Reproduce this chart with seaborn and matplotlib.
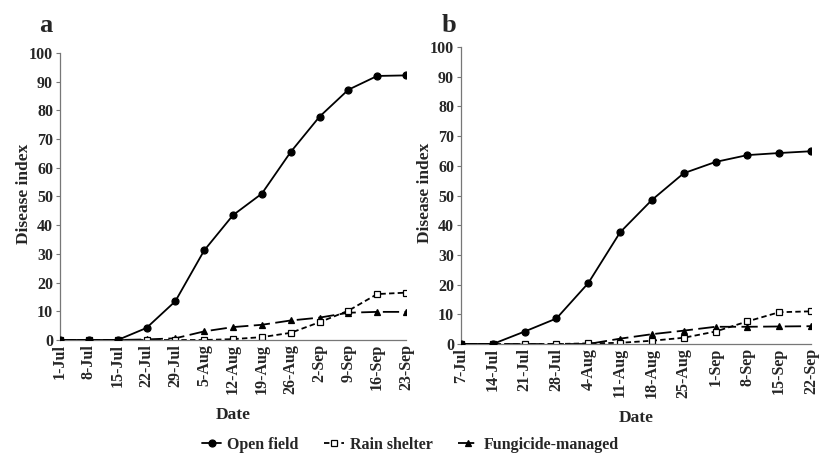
import matplotlib
matplotlib.use("Agg")
import matplotlib.pyplot as plt
import seaborn as sns
import pandas as pd

# Panel a dates and disease index values
DATES_A = ["1-Jul", "8-Jul", "15-Jul", "22-Jul", "29-Jul", "5-Aug", "12-Aug",
           "19-Aug", "26-Aug", "2-Sep", "9-Sep", "16-Sep", "23-Sep"]
OPEN_A = [0, 0, 0, 4.2, 13.5, 31.2, 43.5, 51.0, 65.5, 77.8, 87.2, 92.0, 92.2]
SHELTER_A = [0, 0, 0, 0, 0, 0, 0.3, 1.0, 2.5, 6.2, 10.2, 16.0, 16.5]
FUNGI_A = [0, 0, 0, 0.2, 0.6, 3.0, 4.5, 5.3, 6.8, 7.8, 9.5, 9.8, 9.8]

# Panel b dates and disease index values
DATES_B = ["7-Jul", "14-Jul", "21-Jul", "28-Jul", "4-Aug", "11-Aug", "18-Aug",
           "25-Aug", "1-Sep", "8-Sep", "15-Sep", "22-Sep"]
OPEN_B = [0, 0, 4.2, 8.6, 20.5, 37.6, 48.5, 57.5, 61.3, 63.6, 64.3, 64.9]
SHELTER_B = [0, 0, 0, 0, 0.2, 0.4, 1.1, 2.1, 4.2, 7.6, 10.7, 11.0]
FUNGI_B = [0, 0, 0, 0, 0, 1.8, 3.3, 4.5, 5.8, 5.8, 5.9, 6.0]

SERIES = ["Open field", "Rain shelter", "Fungicide-managed"]
STYLES = {
    "Open field": dict(marker="o", linestyle="-", markerfacecolor="black", zorder=3),
    "Rain shelter": dict(marker="s", linestyle=(0, (3, 1.8)), markerfacecolor="white", zorder=2),
    "Fungicide-managed": dict(marker="^", linestyle=(0, (9, 3)), markerfacecolor="black", zorder=1),
}

sns.set_theme(style="ticks")
plt.rcParams["font.family"] = ["Liberation Serif", "DejaVu Serif"]
plt.rcParams["font.weight"] = "bold"


def draw_panel(ax, dates, values, letter, letter_pos, ylab_pos, xlab_pos):
    df = pd.DataFrame({"date": dates})
    for name, vals in zip(SERIES, values):
        df[name] = vals
    for name in SERIES:
        sns.lineplot(data=df, x="date", y=name, ax=ax, color="black",
                     linewidth=1.3, markersize=5, markeredgecolor="black",
                     markeredgewidth=0.9, label=name, legend=False, sort=False,
                     **STYLES[name])
    ax.set_xlim(0, len(dates) - 1)
    ax.set_ylim(0, 100)
    ax.set_yticks(range(0, 101, 10))
    ax.set_xticks(range(len(dates)))
    ax.set_xticklabels(dates, rotation=90)
    ax.tick_params(axis="x", length=0, pad=3, labelsize=11.5)
    ax.tick_params(axis="y", length=3, width=0.8, pad=2, labelsize=11.5, color="#777777")
    for lab in ax.get_xticklabels() + ax.get_yticklabels():
        lab.set_fontweight("bold")
    for side in ["left", "bottom"]:
        ax.spines[side].set_color("#777777")
        ax.spines[side].set_linewidth(0.9)
    sns.despine(ax=ax)
    ax.set_xlabel("Date", fontsize=12.5, fontweight="bold")
    ax.set_ylabel("Disease index", fontsize=12.5, fontweight="bold")
    ax.xaxis.set_label_coords(0.5, xlab_pos)
    ax.yaxis.set_label_coords(ylab_pos, 0.51)
    ax.text(letter_pos[0], letter_pos[1], letter, transform=ax.transAxes,
            fontsize=19, fontweight="bold", ha="left", va="baseline")


fig = plt.figure(figsize=(8.21, 4.61), dpi=100)
ax_a = fig.add_axes([60 / 821, 1 - 340 / 461, 346 / 821, 287 / 461])
ax_b = fig.add_axes([461 / 821, 1 - 344 / 461, 350 / 821, 297 / 461])

draw_panel(ax_a, DATES_A, [OPEN_A, SHELTER_A, FUNGI_A], "a",
           (-0.061, 1.073), -0.081, -0.233)
draw_panel(ax_b, DATES_B, [OPEN_B, SHELTER_B, FUNGI_B], "b",
           (-0.054, 1.05), -0.079, -0.222)

handles, labels = ax_a.get_legend_handles_labels()
fig.legend(handles, labels, loc="center", bbox_to_anchor=(0.5, 1 - 445 / 461),
           ncol=3, frameon=False, handlelength=1.2, handletextpad=0.4,
           columnspacing=1.6, prop={"size": 11.5, "weight": "bold"})

fig.savefig("out.png", dpi=100)
